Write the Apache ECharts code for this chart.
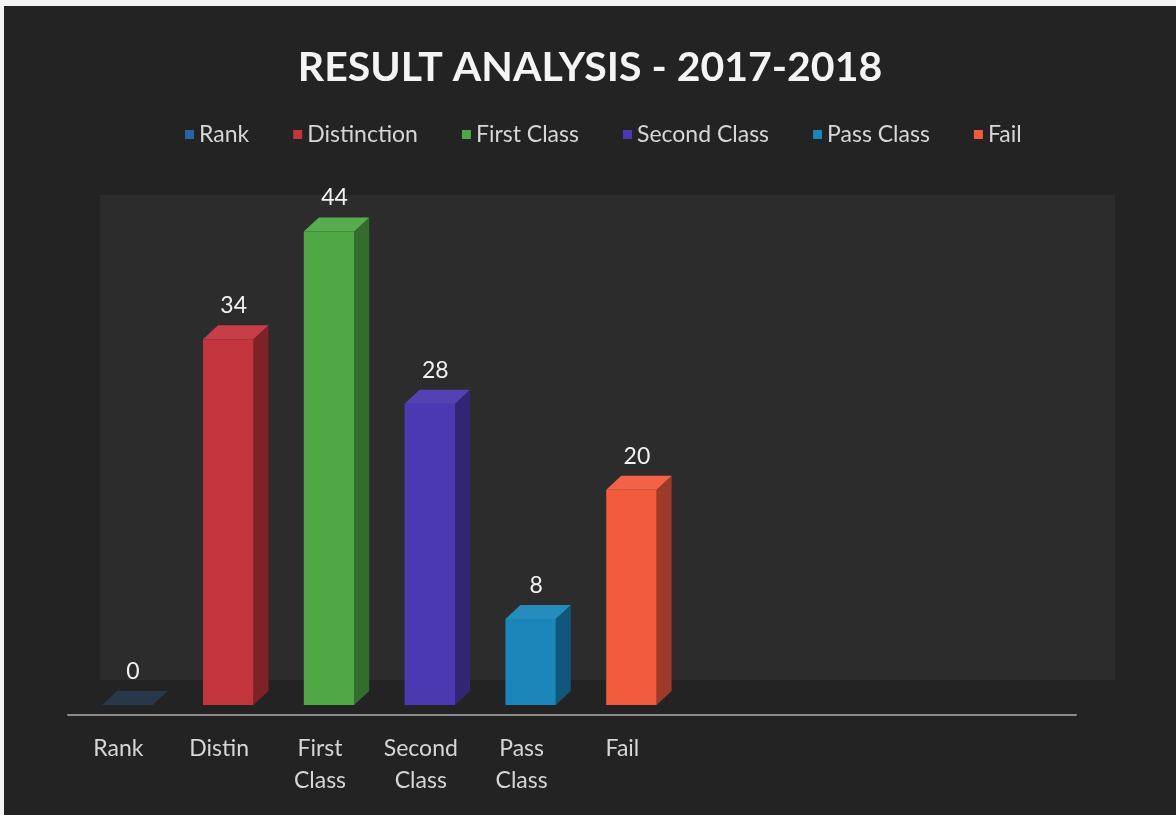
<!DOCTYPE html>
<html>
<head>
<meta charset="utf-8">
<script src="https://cdn.jsdelivr.net/npm/echarts@6/dist/echarts.min.js"></script>
<style>
  html, body { margin: 0; padding: 0; background: #f4f4f4; }
  #chart { position: absolute; left: 4px; top: 6px; width: 1172px; height: 809px; }
</style>
</head>
<body>
<div id="chart"></div>
<script>
// axis slots (the chart keeps empty slots to the right of Fail)
const categories = ['Rank', 'Distin', 'First\nClass', 'Second\nClass', 'Pass\nClass', 'Fail', '', '', '', ''];
const seriesNames = ['Rank', 'Distinction', 'First Class', 'Second Class', 'Pass Class', 'Fail'];
const values = [0, 34, 44, 28, 8, 20];
const colors = ['#2a62a6', '#c3343d', '#4fa845', '#4b39b2', '#1a86ba', '#f25a3d'];

const myChart = echarts.init(document.getElementById('chart'));

const DEPTH_X = 15;
const DEPTH_Y = 14;

// darken a hex colour by a factor
function shade(hex, k) {
  const n = parseInt(hex.slice(1), 16);
  const r = Math.round(((n >> 16) & 255) * k);
  const g = Math.round(((n >> 8) & 255) * k);
  const b = Math.round((n & 255) * k);
  return 'rgb(' + r + ',' + g + ',' + b + ')';
}

function renderBox(params, api) {
  const idx = api.value(0);
  const val = api.value(1);
  const base = api.coord([idx, 0]);
  const top = api.coord([idx, val]);
  const slot = api.size([1, 0])[0];
  const w = slot * 0.5;
  const cx = base[0] + 9;
  const x0 = cx - w / 2;
  const x1 = cx + w / 2;
  const color = colors[params.seriesIndex];
  const side = shade(color, 0.65);
  const lid = echarts.color.lift(color, 0.05);
  const alpha = val === 0 ? 0.3 : 1;
  return {
    type: 'group',
    children: [
      {
        type: 'polygon',
        shape: { points: [[x1, top[1]], [x1 + DEPTH_X, top[1] - DEPTH_Y], [x1 + DEPTH_X, base[1] - DEPTH_Y], [x1, base[1]]] },
        style: { fill: side, opacity: alpha }
      },
      {
        type: 'rect',
        shape: { x: x0, y: top[1], width: w, height: base[1] - top[1] },
        style: { fill: color, opacity: alpha }
      },
      {
        type: 'polygon',
        shape: { points: [[x0, top[1]], [x0 + DEPTH_X, top[1] - DEPTH_Y], [x1 + DEPTH_X, top[1] - DEPTH_Y], [x1, top[1]]] },
        style: { fill: lid, opacity: alpha }
      },
      {
        type: 'text',
        style: {
          text: String(val),
          x: cx + DEPTH_X / 2 - 2,
          y: top[1] - DEPTH_Y - 8,
          align: 'center',
          verticalAlign: 'bottom',
          fill: '#f2f2f2',
          font: '23px Lato, "Open Sans", sans-serif'
        }
      }
    ]
  };
}

const series = seriesNames.map(function (name, i) {
  return {
    name: name,
    type: 'custom',
    renderItem: renderBox,
    itemStyle: { color: colors[i] },
    encode: { x: 0, y: 1 },
    data: [[i, values[i]]],
    z: 3
  };
});

const option = {
  backgroundColor: '#232323',
  textStyle: { fontFamily: 'Lato, "Open Sans", sans-serif' },
  title: {
    text: 'RESULT ANALYSIS - 2017-2018',
    left: 'center',
    top: 36,
    textStyle: { color: '#f4f4f4', fontSize: 41, fontWeight: 'bold', fontFamily: 'Lato, "Open Sans", sans-serif' }
  },
  legend: {
    top: 112,
    left: 176,
    icon: 'rect',
    itemWidth: 9,
    itemHeight: 9,
    itemGap: 44,
    textStyle: { color: '#d6d6d6', fontSize: 23 },
    data: seriesNames
  },
  graphic: [
    {
      type: 'rect',
      left: 96,
      top: 189,
      shape: { width: 1015, height: 485 },
      style: { fill: '#2c2c2c' },
      z: 0
    }
  ],
  grid: { left: 64, right: 100, top: 161, bottom: 110 },
  xAxis: {
    type: 'category',
    data: categories,
    offset: 10,
    axisLine: { onZero: false, lineStyle: { color: '#8a8a8a', width: 2 } },
    axisTick: { show: false },
    axisLabel: { color: '#d6d6d6', fontSize: 23, lineHeight: 32, margin: 18, interval: 0 }
  },
  yAxis: {
    type: 'value',
    min: 0,
    max: 50,
    show: false,
    splitLine: { show: false }
  },
  series: series
};

myChart.setOption(option);
</script>
</body>
</html>
